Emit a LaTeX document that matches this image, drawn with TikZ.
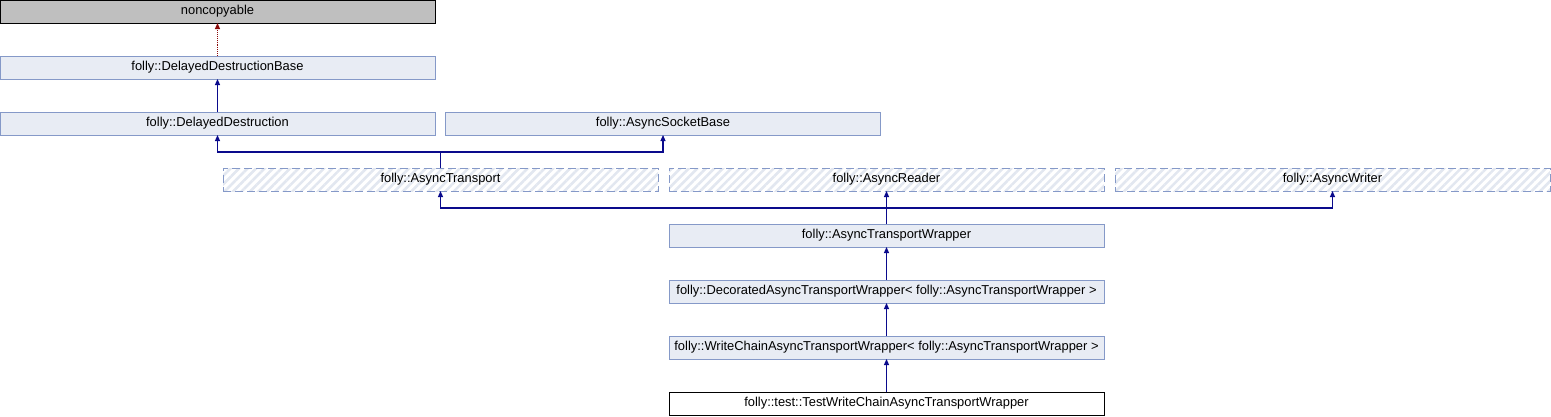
\documentclass[tikz,border=0pt]{standalone}
\usepackage{fontspec}
\setmainfont{Liberation Sans}
\usetikzlibrary{arrows.meta,positioning,patterns.meta}
\definecolor{boxfill}{HTML}{E8ECF4}
\definecolor{boxline}{HTML}{8599C8}
\definecolor{rootfill}{HTML}{BFBFBF}
\definecolor{hatch}{HTML}{E2E7F0}
\definecolor{edgeblue}{HTML}{0A0A8C}
\definecolor{edgered}{HTML}{8B0A0A}
\tikzset{
    every picture/.style={line join=miter},
    classbox/.style={draw=boxline,fill=boxfill,line width=1pt,
      minimum width=435pt,minimum height=23pt,inner sep=0pt,outer sep=0pt,
      font=\fontsize{12.9}{15}\selectfont},
    rootbox/.style={classbox,draw=black,fill=rootfill},
    leafbox/.style={classbox,draw=black,fill=white},
    extbox/.style={classbox,fill=none,dash pattern=on 8pt off 4pt,
      pattern={Lines[angle=45,distance=6pt,line width=2.6pt]},pattern color=hatch},
    inherit/.style={-{Triangle[length=6pt,width=5pt]},draw=edgeblue,line width=1.1pt},
    usesrel/.style={inherit,draw=edgered,densely dotted}
}
\begin{document}
\begin{tikzpicture}[x=1pt,y=-1pt]
  \useasboundingbox (0,0) rectangle (1551,416);
  \node[rootbox] (ncp) at (217.5,11.5) {noncopyable};
  \node[classbox] (ddb) at (217.5,67.5) {folly::DelayedDestructionBase};
  \node[classbox] (dd) at (217.5,123.5) {folly::DelayedDestruction};
  \node[classbox] (asb) at (663,123.5) {folly::AsyncSocketBase};
  \node[extbox] (at) at (440.5,179.5) {folly::AsyncTransport};
  \node[extbox] (ar) at (886.5,179.5) {folly::AsyncReader};
  \node[extbox] (aw) at (1332.5,179.5) {folly::AsyncWriter};
  \node[classbox] (atw) at (886.5,235.5) {folly::AsyncTransportWrapper};
  \node[classbox] (dec) at (886.5,291.5)
    {folly::DecoratedAsyncTransportWrapper< folly::AsyncTransportWrapper >};
  \node[classbox] (wc) at (886.5,347.5)
    {folly::WriteChainAsyncTransportWrapper< folly::AsyncTransportWrapper >};
  \node[leafbox] (tw) at (886.5,403.5) {folly::test::TestWriteChainAsyncTransportWrapper};
  % junctions of the shared lines
  \coordinate (j1) at (440.5,152);
  \coordinate (j2) at (886.5,208);
  \draw[usesrel] (ddb.north) -- (ncp.south);
  \draw[inherit] (dd.north) -- (ddb.south);
  \draw[inherit] (at.north) -- (j1) -| (dd.south);
  \draw[inherit] (j1) -| (asb.south);
  \draw[inherit] (atw.north) -- (ar.south);
  \draw[inherit] (j2) -| (at.south);
  \draw[inherit] (j2) -| (aw.south);
  \draw[inherit] (dec.north) -- (atw.south);
  \draw[inherit] (wc.north) -- (dec.south);
  \draw[inherit] (tw.north) -- (wc.south);
\end{tikzpicture}
\end{document}
